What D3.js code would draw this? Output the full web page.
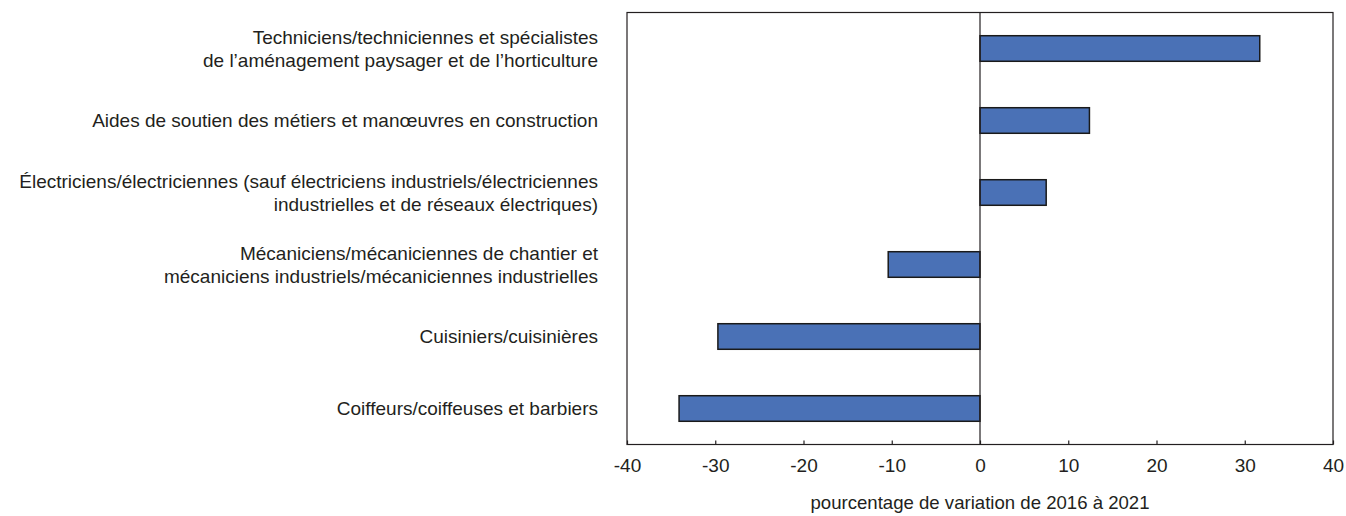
<!DOCTYPE html>
<html><head><meta charset="utf-8">
<script src="https://cdn.jsdelivr.net/npm/d3@7"></script>
<style>
body{margin:0;background:#fff;}
svg{display:block;}
text{font-family:"Liberation Sans Narrow","Arial Narrow","Liberation Sans",sans-serif;fill:#231f20;}
</style></head><body>
<svg id="chart" width="1346" height="516"></svg>
<script>
const categories = [
  ["Techniciens/techniciennes et spécialistes", "de l’aménagement paysager et de l’horticulture"],
  ["Aides de soutien des métiers et manœuvres en construction"],
  ["Électriciens/électriciennes (sauf électriciens industriels/électriciennes", "industrielles et de réseaux électriques)"],
  ["Mécaniciens/mécaniciennes de chantier et", "mécaniciens industriels/mécaniciennes industrielles"],
  ["Cuisiniers/cuisinières"],
  ["Coiffeurs/coiffeuses et barbiers"]
];
const values = [31.7, 12.4, 7.5, -10.4, -29.7, -34.1];
const tickValues = [-40, -30, -20, -10, 0, 10, 20, 30, 40];
const axisTitle = "pourcentage de variation de 2016 à 2021";

const svg = d3.select("#chart");
const L = 627, R = 1333, T = 12.5, B = 444.5;
const x = d3.scaleLinear().domain([-40, 40]).range([L, R]);
const y = d3.scaleBand().domain(d3.range(categories.length)).range([T, B]).paddingInner(0.645).paddingOuter(0.3225);

// frame
svg.append("rect").attr("x", L).attr("y", T).attr("width", R - L).attr("height", B - T)
  .attr("fill", "none").attr("stroke", "#231f20").attr("stroke-width", 1.2);

// bars
svg.append("g").selectAll("rect").data(values).join("rect")
  .attr("x", d => x(Math.min(0, d)))
  .attr("y", (d, i) => y(i))
  .attr("width", d => Math.abs(x(d) - x(0)))
  .attr("height", y.bandwidth())
  .attr("fill", "#4a71b6").attr("stroke", "#1a1a1a").attr("stroke-width", 1.5);

// zero line
svg.append("line").attr("x1", x(0)).attr("x2", x(0)).attr("y1", T).attr("y2", B)
  .attr("stroke", "#231f20").attr("stroke-width", 1.2);

// x axis
const ax = svg.append("g").attr("transform", `translate(0,${B})`)
  .call(d3.axisBottom(x).tickValues(tickValues).tickSizeInner(-4).tickSizeOuter(0).tickPadding(14).tickFormat(d => String(d)));
ax.select(".domain").remove();
ax.selectAll("line").attr("stroke", "#231f20").attr("stroke-width", 1.2);
ax.selectAll("text").attr("font-size", 19).attr("fill", "#231f20").style("font-family", null);

// axis title
svg.append("text").attr("x", x(0)).attr("y", 509).attr("text-anchor", "middle")
  .attr("font-size", 18.6).text(axisTitle);

// category labels
const lab = svg.append("g");
categories.forEach((lines, i) => {
  const cy = y(i) + y.bandwidth() / 2;
  const lh = 23;
  const t = lab.append("text").attr("text-anchor", "end").attr("font-size", 19);
  lines.forEach((ln, j) => {
    t.append("tspan").attr("x", 598)
      .attr("y", cy + (j - (lines.length - 1) / 2) * lh)
      .attr("dy", "0.35em").text(ln);
  });
});
</script></body></html>
